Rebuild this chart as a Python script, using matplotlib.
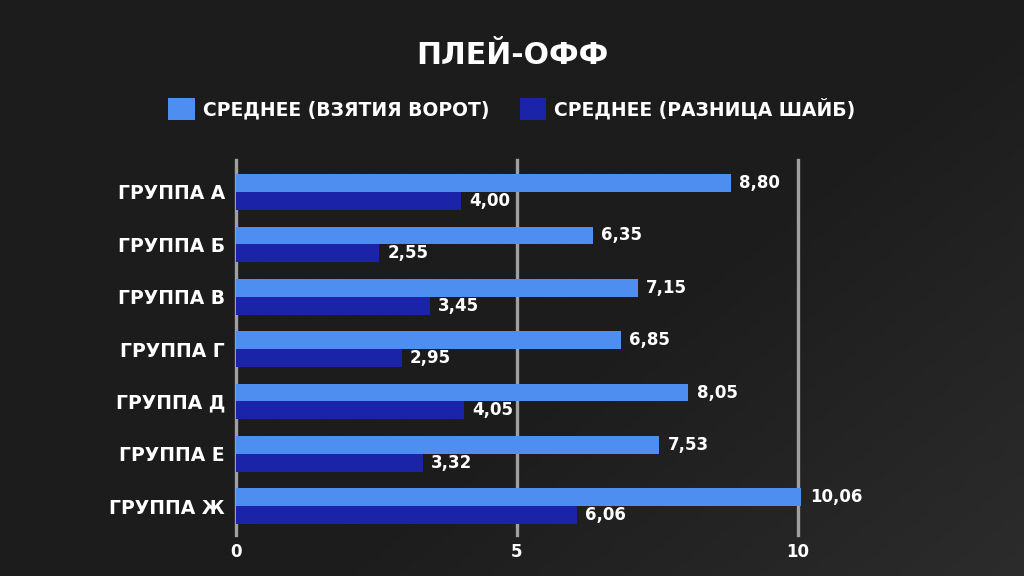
import numpy as np
import matplotlib.pyplot as plt
from matplotlib.colors import LinearSegmentedColormap

groups = ['ГРУППА А', 'ГРУППА Б', 'ГРУППА В', 'ГРУППА Г', 'ГРУППА Д', 'ГРУППА Е', 'ГРУППА Ж']
goals_avg = [8.80, 6.35, 7.15, 6.85, 8.05, 7.53, 10.06]
diff_avg = [4.00, 2.55, 3.45, 2.95, 4.05, 3.32, 6.06]
series_names = ['СРЕДНЕЕ (ВЗЯТИЯ ВОРОТ)', 'СРЕДНЕЕ (РАЗНИЦА ШАЙБ)']
xticks = [0, 5, 10]

light = '#4d8ef0'
dark = '#1b24a8'
bg = '#1c1c1c'

plt.rcParams['font.family'] = ['DejaVu Sans']
plt.rcParams['font.weight'] = 'bold'


def fmt(v):
    return f'{v:.2f}'.replace('.', ',')


def main():
    fig = plt.figure(figsize=(10.24, 5.76), dpi=100, facecolor=bg)

    # subtle diagonal shading in the background
    bgax = fig.add_axes([0, 0, 1, 1], zorder=-1)
    yy, xx = np.mgrid[0:1:200j, 0:1:360j]
    shade = np.clip((xx + yy * 0.7 - 1.0) * 1.5, 0, 1)
    cmap = LinearSegmentedColormap.from_list('bgshade', [bg, '#2b2b2b'])
    bgax.imshow(shade, cmap=cmap, vmin=0, vmax=1, aspect='auto', extent=[0, 1, 0, 1], origin='upper')
    bgax.axis('off')

    ax = fig.add_axes([236 / 1024, 1 - 535 / 576, (798 - 236) / 1024, (535 - 160) / 576])
    ax.set_facecolor('none')

    y = np.arange(len(groups))
    h = 0.34
    b1 = ax.barh(y - h / 2, goals_avg, height=h, color=light, label=series_names[0], zorder=3, clip_on=False)
    b2 = ax.barh(y + h / 2, diff_avg, height=h, color=dark, label=series_names[1], zorder=3, clip_on=False)

    for bars, vals in ((b1, goals_avg), (b2, diff_avg)):
        for bar, v in zip(bars, vals):
            ax.annotate(fmt(v), (v, bar.get_y() + bar.get_height() / 2), xytext=(6, 0),
                        textcoords='offset points', va='center', ha='left',
                        color='white', fontsize=12, fontweight='bold', annotation_clip=False)

    ax.set_xlim(0, 10)
    ax.set_ylim(len(groups) - 0.45, -0.61)
    ax.set_xticks(xticks)
    ax.set_xticklabels([str(t) for t in xticks], color='white', fontsize=12, fontweight='bold')
    ax.set_yticks(y)
    ax.set_yticklabels(groups, color='white', fontsize=13.5, fontweight='bold')
    ax.tick_params(length=0, pad=8)
    ax.tick_params(axis='x', pad=6)
    for s in ax.spines.values():
        s.set_visible(False)
    ax.grid(axis='x', color='#a0a0a0', linewidth=2.4, zorder=1)
    for gl in ax.get_xgridlines():
        gl.set_clip_on(False)
    ax.set_axisbelow(True)

    fig.text(0.5, 1 - 55 / 576, 'ПЛЕЙ-ОФФ', ha='center', va='center', color='white',
             fontsize=21.5, fontweight='bold')

    leg = ax.legend(loc='center', bbox_to_anchor=(0.5, 1 - 109 / 576), bbox_transform=fig.transFigure,
                    ncol=2, frameon=False, handlelength=1.4, handleheight=1.4, columnspacing=1.6,
                    handletextpad=0.45, fontsize=13.5)
    for t in leg.get_texts():
        t.set_color('white')
        t.set_fontweight('bold')

    fig.savefig('out.png', dpi=100, facecolor=bg)


if __name__ == '__main__':
    main()
